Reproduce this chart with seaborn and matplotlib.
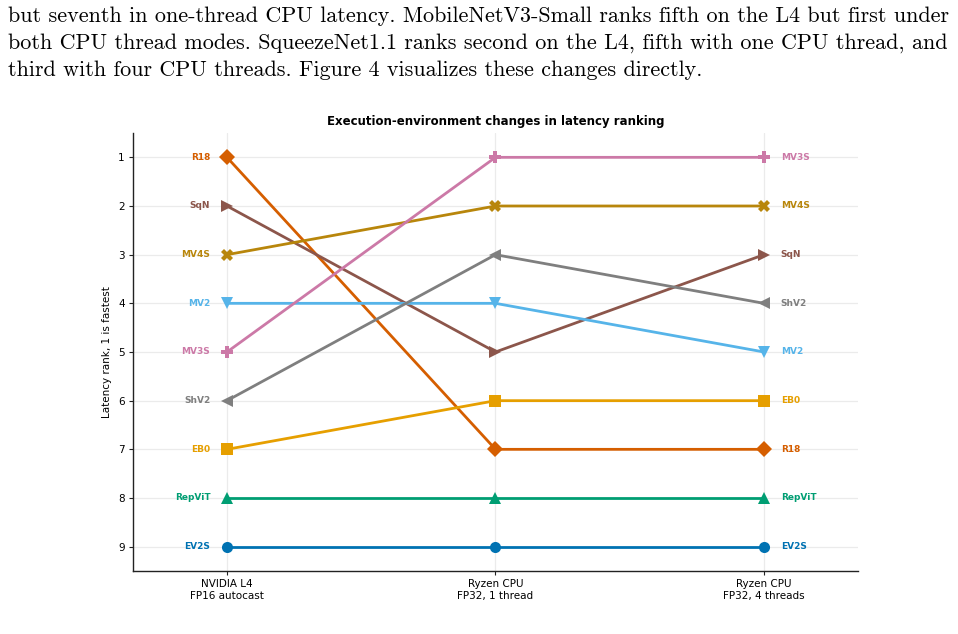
import matplotlib
matplotlib.use("Agg")
import matplotlib.pyplot as plt
import seaborn as sns
import pandas as pd

# ---- data ----
environments = ["NVIDIA L4\nFP16 autocast", "Ryzen CPU\nFP32, 1 thread", "Ryzen CPU\nFP32, 4 threads"]
models = ["R18", "SqN", "MV4S", "MV2", "MV3S", "ShV2", "EB0", "RepViT", "EV2S"]
rank_l4 = [1, 2, 3, 4, 5, 6, 7, 8, 9]
rank_cpu1 = [7, 5, 2, 4, 1, 3, 6, 8, 9]
rank_cpu4 = [7, 3, 2, 5, 1, 4, 6, 8, 9]
colors = ["#D55E00", "#8C564B", "#B8860B", "#56B4E9", "#CC79A7", "#7F7F7F", "#E69F00", "#009E73", "#0072B2"]
marker_list = ["D", ">", "X", "v", "P", "<", "s", "^", "o"]
paper_text = [
    "but seventh in one-thread CPU latency. MobileNetV3-Small ranks fifth on the L4 but first under",
    "both CPU thread modes. SqueezeNet1.1 ranks second on the L4, fifth with one CPU thread, and",
    "third with four CPU threads. Figure 4 visualizes these changes directly.",
]

rows = []
for m, a, b, c in zip(models, rank_l4, rank_cpu1, rank_cpu4):
    for i, r in enumerate([a, b, c]):
        rows.append({"model": m, "env": i, "rank": r})
df = pd.DataFrame(rows)

sns.set_style("white")
plt.rcParams["text.color"] = "black"
plt.rcParams["axes.labelcolor"] = "black"
plt.rcParams["xtick.color"] = "black"
plt.rcParams["ytick.color"] = "black"
fig = plt.figure(figsize=(9.58, 6.34), dpi=100)
ax = fig.add_axes([133/958, 1-571/634, (858-133)/958, (571-133)/634])

palette = dict(zip(models, colors))
mk = dict(zip(models, marker_list))
sns.lineplot(data=df, x="env", y="rank", hue="model", style="model", hue_order=models,
             style_order=models, palette=palette, markers=mk, dashes=False,
             linewidth=2, markersize=8, markeredgewidth=0, ax=ax, legend=False)

ax.set_xlim(-0.35, 2.35)
ax.set_ylim(9.5, 0.5)
ax.set_xticks([0, 1, 2])
ax.set_xticklabels(environments, fontsize=7.5)
ax.set_yticks(range(1, 10))
ax.set_yticklabels([str(i) for i in range(1, 10)], fontsize=7.5)
ax.set_xlabel("")
ax.set_ylabel("Latency rank, 1 is fastest", fontsize=7.5)
ax.set_title("Execution-environment changes in latency ranking", fontsize=8.5, fontweight="bold", pad=6)
ax.grid(True, color="#ebebeb", linewidth=0.9)
ax.set_axisbelow(True)
for s in ["top", "right"]:
    ax.spines[s].set_visible(False)
for s in ["left", "bottom"]:
    ax.spines[s].set_color("#222222")
    ax.spines[s].set_linewidth(1.0)
ax.tick_params(axis="both", length=3, width=0.8, color="#222222", left=True, bottom=True, pad=3)

for m, a, c, col in zip(models, rank_l4, rank_cpu4, colors):
    ax.annotate(m, (0, a), xytext=(-12, 0), textcoords="offset points", ha="right", va="center",
                fontsize=6.5, fontweight="bold", color=col)
    ax.annotate(m, (2, c), xytext=(12, 0), textcoords="offset points", ha="left", va="center",
                fontsize=6.5, fontweight="bold", color=col)

for i, line in enumerate(paper_text):
    fig.text(8/958, 1-(16+27*i)/634, line, ha="left", va="center", fontsize=15.9,
             family="cmr10", color="black")

fig.savefig("out.png", dpi=100)
